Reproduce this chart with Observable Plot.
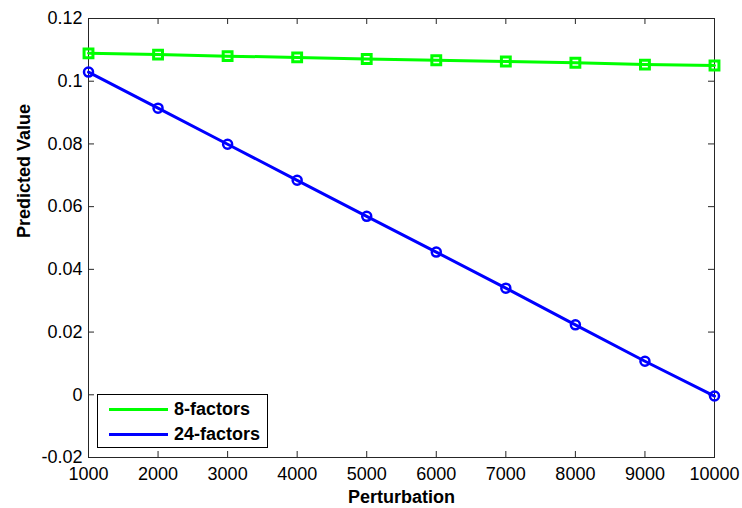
<!DOCTYPE html>
<html>
<head>
<meta charset="utf-8">
<script src="https://cdn.jsdelivr.net/npm/d3@7"></script>
<script src="https://cdn.jsdelivr.net/npm/@observablehq/plot@0.6"></script>
<style>
  body { margin: 0; background: #fff; }
  #wrap { position: relative; width: 742px; height: 508px; font-family: "Liberation Sans", Arial, sans-serif; }
  #legend { position: absolute; left: 97px; top: 394px; width: 171px; height: 54px; border: 1px solid #000; background: #fff; box-sizing: border-box; }
  .item { position: absolute; left: 0; height: 24px; width: 100%; }
  .swatch { position: absolute; left: 11px; width: 59px; height: 3px; }
  .lab { position: absolute; left: 76px; font-weight: bold; font-size: 18px; line-height: 18px; color: #000; }
</style>
</head>
<body>
<div id="wrap"></div>
<script>
const perturbation = [1000, 2000, 3000, 4000, 5000, 6000, 7000, 8000, 9000, 10000];
const factors8 = [0.1089, 0.1085, 0.1080, 0.1076, 0.1071, 0.1067, 0.1063, 0.1059, 0.1053, 0.1050];
const factors24 = [0.1029, 0.0914, 0.0799, 0.0684, 0.0569, 0.0455, 0.0340, 0.0223, 0.0107, -0.0004];
const seriesNames = ["8-factors", "24-factors"];
const seriesColors = ["#00ff00", "#0000ff"];
const xTicks = [1000, 2000, 3000, 4000, 5000, 6000, 7000, 8000, 9000, 10000];
const yTicks = [-0.02, 0, 0.02, 0.04, 0.06, 0.08, 0.1, 0.12];

const W = 742, H = 508, mL = 88, mR = 28, mT = 18, mB = 51;
const plotW = W - mL - mR, plotH = H - mT - mB, tk = 6;

const g = perturbation.map((x, i) => ({x, y: factors8[i]}));
const b = perturbation.map((x, i) => ({x, y: factors24[i]}));

const chart = Plot.plot({
  width: W, height: H,
  marginLeft: mL, marginRight: mR, marginTop: mT, marginBottom: mB,
  style: {fontSize: "18px", fontFamily: "'Liberation Sans', Arial, sans-serif", color: "#000", background: "#fff"},
  x: {domain: [1000, 10000]},
  y: {domain: [-0.02, 0.12]},
  marks: [
    Plot.axisX(xTicks, {tickSize: 0, tickPadding: 10, tickFormat: d => String(d), label: null}),
    Plot.axisY(yTicks, {tickSize: 0, tickPadding: 6, tickFormat: d => String(+d.toFixed(2)), label: null}),
    Plot.tickX(xTicks, {x: d => d, insetTop: plotH - tk, stroke: "#262626"}),
    Plot.tickX(xTicks, {x: d => d, insetBottom: plotH - tk, stroke: "#262626"}),
    Plot.tickY(yTicks, {y: d => d, insetRight: plotW - tk, stroke: "#262626"}),
    Plot.tickY(yTicks, {y: d => d, insetLeft: plotW - tk, stroke: "#262626"}),
    Plot.frame({stroke: "#262626"}),
    Plot.line(g, {x: "x", y: "y", stroke: seriesColors[0], strokeWidth: 3}),
    Plot.dot(g, {x: "x", y: "y", symbol: "square", r: 5, stroke: seriesColors[0], strokeWidth: 3, fill: "none"}),
    Plot.line(b, {x: "x", y: "y", stroke: seriesColors[1], strokeWidth: 3}),
    Plot.dot(b, {x: "x", y: "y", symbol: "circle", r: 4.5, stroke: seriesColors[1], strokeWidth: 2.5, fill: "none"}),
    Plot.text(["Perturbation"], {frameAnchor: "bottom", dy: 40, text: d => d, fontWeight: "bold", fontSize: 18, lineAnchor: "middle"}),
    Plot.text(["Predicted Value"], {frameAnchor: "left", dx: -64, rotate: -90, text: d => d, fontWeight: "bold", fontSize: 18})
  ]
});

const wrap = document.getElementById("wrap");
wrap.appendChild(chart);
const leg = document.createElement("div");
leg.id = "legend";
seriesNames.forEach((name, i) => {
  const it = document.createElement("div");
  it.className = "item";
  it.style.top = (i * 25) + "px";
  const sw = document.createElement("div");
  sw.className = "swatch";
  sw.style.top = "13px";
  sw.style.background = seriesColors[i];
  const lb = document.createElement("div");
  lb.className = "lab";
  lb.style.top = "5px";
  lb.textContent = name;
  it.appendChild(sw); it.appendChild(lb);
  leg.appendChild(it);
});
wrap.appendChild(leg);
</script>
</body>
</html>
